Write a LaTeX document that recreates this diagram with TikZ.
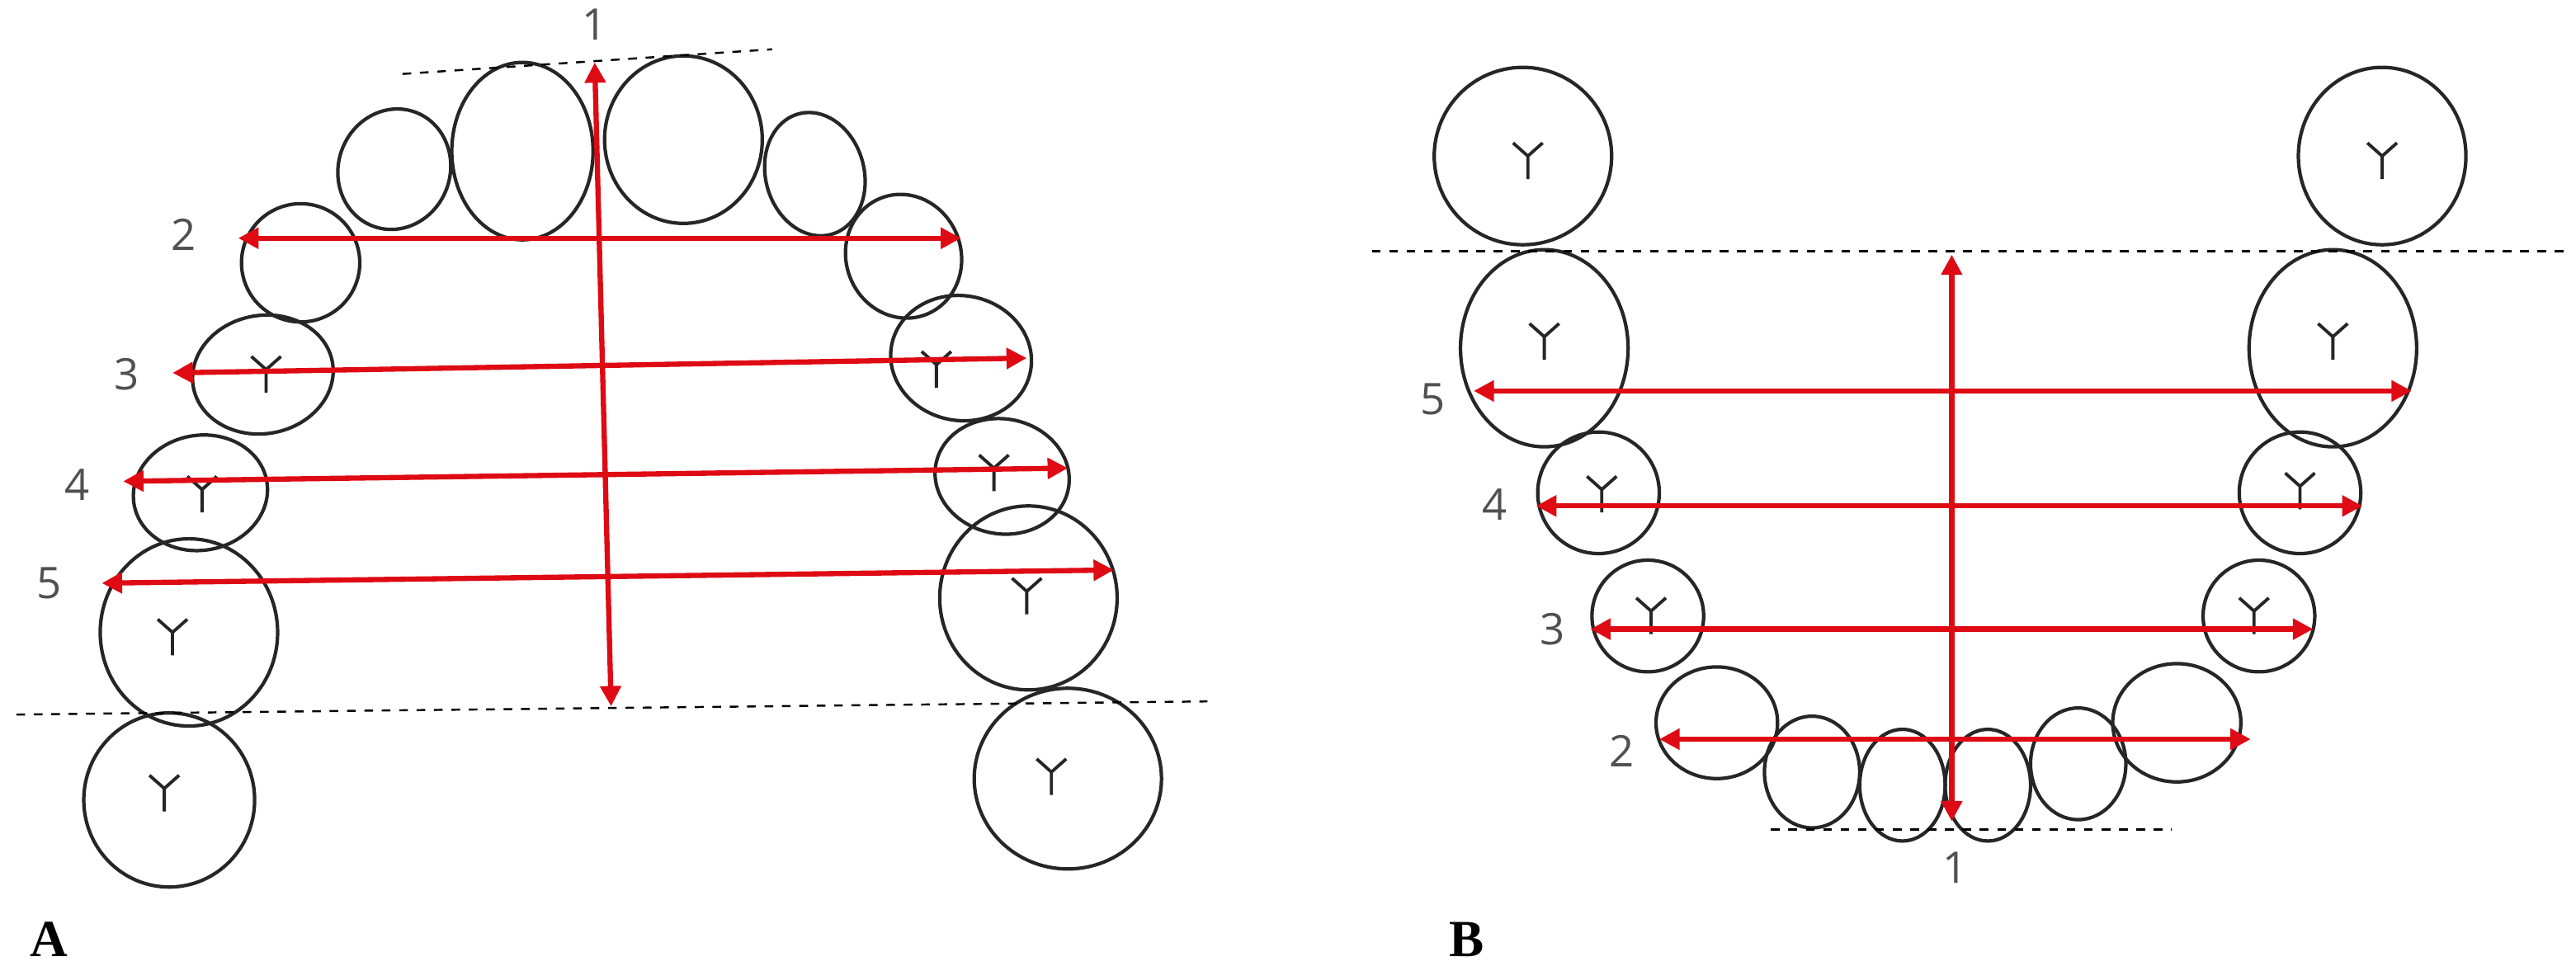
\documentclass[tikz,border=0pt]{standalone}
\usepackage{fontspec}
\setmainfont{Liberation Serif}
\newfontfamily\lblfont{Open Sans}
\usetikzlibrary{arrows.meta}
\definecolor{arrred}{RGB}{222,10,20}
\definecolor{lblgray}{RGB}{80,80,80}
\tikzset{
 tooth/.style={draw=black!85,line width=1.2pt},
 groove/.style={draw=black!85,line width=1.1pt},
 meas/.style={draw=arrred,line width=1.8pt,{Triangle[length=7pt,width=7pt]}-{Triangle[length=7pt,width=7pt]}},
 ref/.style={draw=black,dashed,line width=0.7pt},
 num/.style={font=\lblfont\fontsize{15}{15}\selectfont,text=lblgray,inner sep=1pt},
 panel/.style={font=\bfseries\fontsize{18}{18}\selectfont,inner sep=1pt}
}
\newcommand{\tth}[5]{\draw[tooth,rotate around={#5:(#1,#2)}] (#1,#2) ellipse ({#3} and {#4});}
\newcommand{\ygr}[2]{\draw[groove] (#1,#2+14)--(#1,#2)--(#1-9,#2-8) (#1,#2)--(#1+9,#2-8);}
\begin{document}
\begin{tikzpicture}[x=0.019911cm,y=-0.019911cm]
\useasboundingbox (0,0) rectangle (1568,591);
% ---- Panel A teeth
\tth{103}{487}{52}{53}{0}
\tth{115}{385}{54}{57}{0}
\tth{122}{300}{41}{35}{10}
\tth{160}{228}{43}{36}{10}
\tth{183}{160}{36}{36}{20}
\tth{240}{103}{34}{37}{-20}
\tth{318}{92}{43}{54}{0}
\tth{416}{85}{48}{51}{0}
\tth{496}{106}{30}{38}{15}
\tth{550}{156}{35}{38}{20}
\tth{585}{218}{43}{38}{-10}
\tth{610}{290}{41}{35}{-10}
\tth{626}{364}{54}{56}{0}
\tth{650}{474}{57}{55}{0}
\ygr{123}{298}\ygr{162}{225}\ygr{105}{385}\ygr{100}{480}
\ygr{570}{222}\ygr{605}{285}\ygr{625}{360}\ygr{640}{470}
% ---- Panel B teeth
\tth{927}{95}{54}{54}{0}
\tth{940}{212}{51}{60}{0}
\tth{973}{300}{37}{37}{0}
\tth{1003}{375}{34}{34}{0}
\tth{1045}{440}{37}{34}{0}
\tth{1103}{470}{29}{34}{0}
\tth{1158}{478}{26}{34}{0}
\tth{1210}{478}{26}{34}{0}
\tth{1265}{465}{29}{34}{0}
\tth{1325}{440}{39}{36}{0}
\tth{1375}{375}{34}{34}{0}
\tth{1400}{300}{37}{37}{0}
\tth{1420}{212}{51}{60}{0}
\tth{1450}{95}{51}{54}{0}
\ygr{930}{95}\ygr{940}{205}\ygr{975}{298}\ygr{1005}{372}
\ygr{1450}{95}\ygr{1420}{205}\ygr{1400}{296}\ygr{1372}{372}
% ---- Panel A measurements
\coordinate (a1s) at (362,38); \coordinate (a1e) at (372,430);
\coordinate (a2s) at (145,145); \coordinate (a2e) at (585,145);
\coordinate (a3s) at (105,227); \coordinate (a3e) at (625,218);
\coordinate (a4s) at (75,293);  \coordinate (a4e) at (650,285);
\coordinate (a5s) at (62,355);  \coordinate (a5e) at (678,347);
\foreach \i in {1,...,5}{\draw[meas] (a\i s)--(a\i e);}
\coordinate (da1) at (245,45); \coordinate (da2) at (470,30);
\coordinate (da3) at (10,435); \coordinate (da4) at (735,427);
\draw[ref] (da1)--(da2); \draw[ref] (da3)--(da4);
\node[num] (na1) at (362,15) {1};
\node[num] (na2) at (112,143) {2};
\node[num] (na3) at (77,228) {3};
\node[num] (na4) at (47,295) {4};
\node[num] (na5) at (30,355) {5};
\node[panel] (pa) at (30,572) {A};
% ---- Panel B measurements
\coordinate (b1s) at (1188,155); \coordinate (b1e) at (1188,500);
\coordinate (b5s) at (897,238);  \coordinate (b5e) at (1468,238);
\coordinate (b4s) at (935,308);  \coordinate (b4e) at (1438,308);
\coordinate (b3s) at (968,383);  \coordinate (b3e) at (1408,383);
\coordinate (b2s) at (1010,450); \coordinate (b2e) at (1370,450);
\foreach \i in {1,...,5}{\draw[meas] (b\i s)--(b\i e);}
\coordinate (db1) at (835,153); \coordinate (db2) at (1562,153);
\coordinate (db3) at (1078,505); \coordinate (db4) at (1322,505);
\draw[ref] (db1)--(db2); \draw[ref] (db3)--(db4);
\node[num] (nb5) at (872,243) {5};
\node[num] (nb4) at (910,307) {4};
\node[num] (nb3) at (945,383) {3};
\node[num] (nb2) at (987,457) {2};
\node[num] (nb1) at (1190,528) {1};
\node[panel] (pb) at (893,572) {B};
\end{tikzpicture}
\end{document}
